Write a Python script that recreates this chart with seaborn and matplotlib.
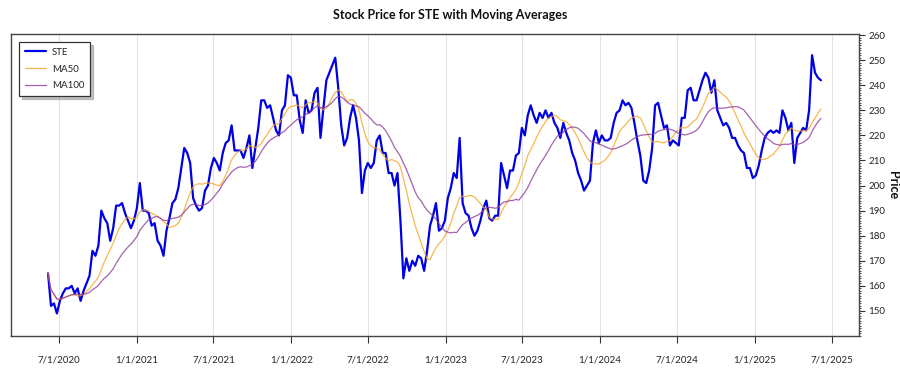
import pandas as pd
import numpy as np
import matplotlib
matplotlib.use("Agg")
import matplotlib.pyplot as plt
import matplotlib.dates as mdates
from matplotlib.ticker import MultipleLocator, FuncFormatter
import seaborn as sns

# ---- data (weekly closes) ----
start_date = "2020-06-05"
prices = [
    165, 152, 153, 149, 154, 157, 159, 159, 160, 157, 159, 154, 158, 161, 164, 174, 172, 176, 190, 187,
    185, 178, 183, 192, 192, 193, 189, 186, 183, 186, 191, 201, 190, 190, 189, 184, 185, 178, 176, 172,
    182, 187, 193, 194.5, 199, 207, 215, 213, 209, 195, 192, 190, 191, 198, 200, 207, 211, 209, 206, 213,
    217, 218, 224, 214, 214, 214, 211, 215, 220, 207, 215, 223, 234, 234, 231, 232, 227, 222, 220, 230,
    232, 244, 243, 236, 236, 226, 221, 234, 229, 230, 237, 239, 219, 231, 242, 245, 248, 251, 239, 224,
    216, 219, 227, 232, 227, 218, 197, 206, 209, 207, 209, 218, 220, 213, 213, 205, 205, 200, 205, 186,
    163, 171, 166, 170, 168, 172, 171, 166, 174, 184, 188, 193, 182, 183, 186, 195, 199, 205, 203, 219,
    193, 189, 188, 183, 180, 182, 186, 191, 194, 187, 186, 188, 188, 209, 204, 199, 206, 206, 212, 213,
    223, 220, 228, 232, 228, 225, 229, 227, 230, 227, 229, 225, 223, 219, 225, 221, 218, 213, 210, 205,
    202, 198, 200, 202, 217, 222, 217, 220, 218, 218, 219, 225, 229, 230, 234, 232, 233, 231, 225, 218,
    212, 202, 201, 206, 215, 232, 233, 228, 223, 224, 216, 218, 217, 216, 227, 227, 238, 239, 234, 234,
    238, 242, 245, 243, 237, 242, 230, 227, 224, 225, 223, 219, 219, 216, 214, 213, 207, 207, 203, 204,
    208, 214, 219, 221, 222, 221, 222, 221, 230, 227, 222, 225, 209, 219, 221, 223, 222, 230, 252, 245,
    243, 242,
]
ma_short_window = 10   # 50 trading days on weekly data
ma_long_window = 20    # 100 trading days on weekly data
tick_dates = ["2020-07-01", "2021-01-01", "2021-07-01", "2022-01-01", "2022-07-01", "2023-01-01",
              "2023-07-01", "2024-01-01", "2024-07-01", "2025-01-01", "2025-07-01"]
y_ticks = [150, 160, 170, 180, 190, 200, 210, 220, 230, 240, 250, 260]

dates = pd.date_range(start_date, periods=len(prices), freq="7D")
df = pd.DataFrame({"Date": dates, "STE": prices})
df["MA50"] = df["STE"].rolling(ma_short_window, min_periods=1).mean()
df["MA100"] = df["STE"].rolling(ma_long_window, min_periods=1).mean()

# ---- style ----
sns.set_style("white")
plt.rcParams["font.family"] = ["Lato", "DejaVu Sans"]

fig, ax = plt.subplots(figsize=(9, 3.75), dpi=100)
fig.subplots_adjust(left=0.012, right=0.954, top=0.909, bottom=0.104)

sns.lineplot(data=df, x="Date", y="STE", ax=ax, color="#0000e6", lw=1.6, label="STE")
sns.lineplot(data=df, x="Date", y="MA50", ax=ax, color="#f5a623", lw=0.9, alpha=0.8, label="MA50")
sns.lineplot(data=df, x="Date", y="MA100", ax=ax, color="#8e3a9e", lw=0.9, alpha=0.8, label="MA100")

ax.set_xlim(pd.Timestamp("2020-03-09"), pd.Timestamp("2025-09-03"))
ax.set_ylim(140, 260.4)

ax.set_xticks([pd.Timestamp(d) for d in tick_dates])
ax.xaxis.set_major_formatter(FuncFormatter(
    lambda v, p: (lambda d: f"{d.month}/{d.day}/{d.year}")(mdates.num2date(v))))
ax.set_xlabel("")
ax.tick_params(axis="x", which="major", length=5, width=0.8, color="#333333",
               labelsize=7, labelcolor="#222222", pad=9, bottom=True)

ax.yaxis.tick_right()
ax.yaxis.set_label_position("right")
ax.set_yticks(y_ticks)
ax.yaxis.set_minor_locator(MultipleLocator(1))
ax.tick_params(axis="y", which="major", length=4, width=0.8, color="#333333",
               labelsize=7, labelcolor="#222222", pad=3, right=True, left=False)
ax.tick_params(axis="y", which="minor", length=1.5, width=0.6, color="#333333",
               right=True, left=False)
ax.set_ylabel("Price", rotation=270, fontsize=9, fontweight="bold", labelpad=10, color="#111111")

ax.grid(axis="x", color="#e3e3e3", lw=0.8)
ax.grid(axis="y", visible=False)
for s in ax.spines.values():
    s.set_color("#444444")
    s.set_linewidth(1.0)

leg = ax.legend(loc="upper left", frameon=True, shadow={"color": "#999999", "alpha": 0.6},
                fancybox=False, fontsize=7, borderpad=0.6, labelspacing=0.8,
                handlelength=2.2, handletextpad=0.6, bbox_to_anchor=(0.004, 0.99))
leg.get_frame().set_edgecolor("#333333")
leg.get_frame().set_linewidth(0.9)

fig.text(0.5, 1 - 15 / 375, "Stock Price for STE with Moving Averages",
         ha="center", va="center", fontsize=9, fontweight="bold", color="#111111")

fig.savefig("out.png", dpi=100)
